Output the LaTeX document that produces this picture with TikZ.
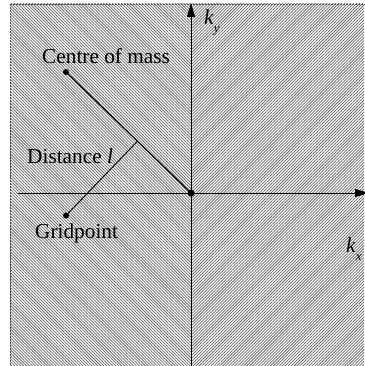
\documentclass[tikz,border=0pt]{standalone}
\usepackage{fontspec}
\setmainfont{Liberation Serif}
\usetikzlibrary{patterns.meta,arrows.meta}
\begin{document}
\begin{tikzpicture}[x=1pt,y=-1pt,
  lbl/.style={font=\fontsize{21.3}{23}\selectfont, inner sep=0pt, anchor=base west},
  dotc/.style={circle, fill=black, inner sep=0pt, minimum size=#1},
  axis/.style={line width=0.9pt, -{Triangle[length=14pt,width=8pt]}},
]
\useasboundingbox (0,0) rectangle (364,366);
\fill[white] (0,0) rectangle (364,366);
% hatched halves
\fill[pattern={Lines[angle=-45,distance=2.1pt,line width=0.75pt]}, pattern color=black!60] (10,4) rectangle (191,366);
\fill[pattern={Lines[angle=45,distance=2.1pt,line width=0.75pt]}, pattern color=black!60] (191,4) rectangle (364,366);
\draw[black!70, line width=0.5pt, densely dotted] (10,366) -- (10,4) -- (364,4);
% points
\node[dotc=7pt] (O) at (191,193) {};
\node[dotc=6pt] (cm) at (66,72) {};
\node[dotc=6pt] (gp) at (66,215.5) {};
\coordinate (foot) at (137.5,141.2);
\coordinate (ybot) at (191,366);
\coordinate (ytop) at (191,3);
\coordinate (xl) at (18,193);
\coordinate (xr) at (369,193);
% axes
\draw[axis] (ybot) -- (ytop);
\draw[axis] (xl) -- (xr);
% lines
\draw[line width=1.2pt] (cm.center) -- (O.center);
\draw[line width=0.9pt] (gp.center) -- (foot);
% labels
\node[lbl] (tcm) at (42,63.5) {Centre of mass};
\node[lbl] (tdl) at (27,163) {Distance \textit{l}};
\node[lbl] (tgp) at (35,238) {Gridpoint};
\node[lbl] (tky) at (204,25) {\textit{k}\raisebox{-8pt}{\fontsize{13}{14}\selectfont\textit{y}}};
\node[lbl] (tkx) at (346,252) {\textit{k}\raisebox{-8pt}{\fontsize{13}{14}\selectfont\textit{x}}};
\end{tikzpicture}
\end{document}
